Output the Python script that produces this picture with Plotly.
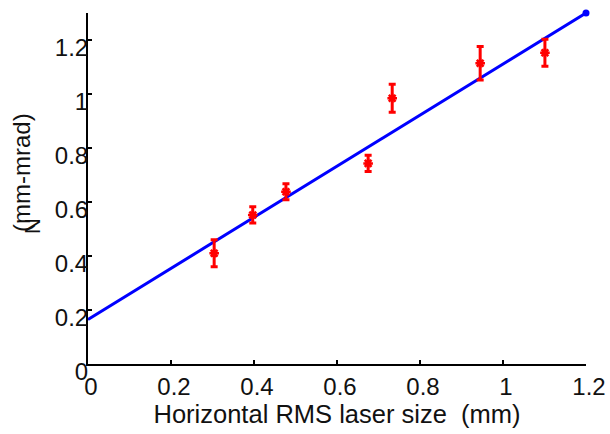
import plotly.graph_objects as go

# Data points (horizontal RMS laser size, emittance)
x_data = [0.304, 0.397, 0.477, 0.675, 0.733, 0.945, 1.101]
y_data = [0.41, 0.552, 0.638, 0.743, 0.984, 1.114, 1.153]
y_err = [0.05, 0.03, 0.03, 0.03, 0.052, 0.062, 0.05]

# Linear fit line
fit_x = [0.0, 1.2]
fit_y = [0.165, 1.30]

x_ticks = [0, 0.2, 0.4, 0.6, 0.8, 1.0, 1.2]
x_ticklabels = ["0", "0.2", "0.4", "0.6", "0.8", "1", "1.2"]
y_ticks = [0, 0.2, 0.4, 0.6, 0.8, 1.0, 1.2]
y_ticklabels = ["0", "0.2", "0.4", "0.6", "0.8", "1", "1.2"]

FONT = "Liberation Sans, Arial, sans-serif"

fig = go.Figure()

fig.add_trace(go.Scatter(
    x=fit_x, y=fit_y, mode="lines",
    line=dict(color="#0000ff", width=3),
    cliponaxis=False, showlegend=False, hoverinfo="skip",
))
fig.add_trace(go.Scatter(
    x=fit_x[-1:], y=fit_y[-1:], mode="markers",
    marker=dict(color="#0000ff", size=7, symbol="circle"),
    cliponaxis=False, showlegend=False, hoverinfo="skip",
))

fig.add_trace(go.Scatter(
    x=x_data, y=y_data, mode="markers",
    marker=dict(symbol="asterisk", size=8, color="#ff0000",
                line=dict(color="#ff0000", width=2.5)),
    error_y=dict(type="data", array=y_err, visible=True,
                 color="#ff0000", thickness=3, width=3.5),
    cliponaxis=False, showlegend=False,
))

fig.update_xaxes(
    range=[0, 1.2], tickvals=x_ticks, ticktext=x_ticklabels,
    showline=True, linecolor="black", linewidth=2,
    ticks="inside", ticklen=4, tickwidth=2, tickcolor="black",
    showgrid=False, zeroline=False, automargin=False,
    tickfont=dict(family=FONT, size=24, color="#111"),
    ticklabelshift=3,
    title=dict(text="Horizontal RMS laser size  (mm)",
               font=dict(family=FONT, size=25.5, color="#111"), standoff=6),
)
fig.update_yaxes(
    range=[0, 1.3], tickvals=y_ticks, ticktext=y_ticklabels,
    showline=True, linecolor="black", linewidth=2,
    ticks="inside", ticklen=4, tickwidth=2, tickcolor="black",
    showgrid=False, zeroline=False, automargin=False,
    tickfont=dict(family=FONT, size=24, color="#111"),
    ticklabelstandoff=-7, ticklabelshift=8,
)

fig.add_annotation(
    text="(mm-mrad)", xref="paper", yref="paper",
    x=(21 - 88) / 498, y=(364 - 173) / 351, xanchor="center", yanchor="middle",
    textangle=-90, showarrow=False,
    font=dict(family=FONT, size=24, color="#111"),
)
fig.add_annotation(
    text="N", xref="paper", yref="paper",
    x=(32 - 88) / 498, y=(364 - 226) / 351, xanchor="center", yanchor="middle",
    textangle=-90, showarrow=False,
    font=dict(family=FONT, size=22, color="#111"),
)

fig.update_layout(
    width=610, height=434,
    margin=dict(l=88, r=24, t=13, b=70),
    paper_bgcolor="white", plot_bgcolor="white",
)

fig.write_html("out.html")
